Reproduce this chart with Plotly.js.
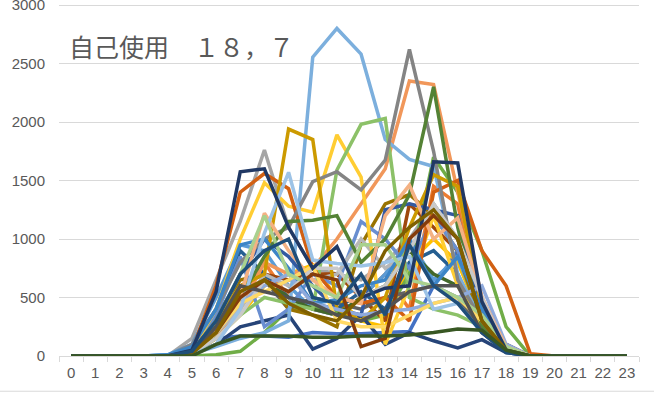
<!DOCTYPE html>
<html>
<head>
<meta charset="utf-8">
<script src="https://cdn.plot.ly/plotly-3.0.1.min.js"></script>
<style>html,body{margin:0;padding:0;background:#fff;}#chart{width:654px;height:393px;}</style>
</head>
<body>
<div id="chart"></div>
<script>
const hours = ["0","1","2","3","4","5","6","7","8","9","10","11","12","13","14","15","16","17","18","19","20","21","22","23"];
const titleText = "自己使用　１８，７";

const s01 = [0,0,0,0,0,30,150,170,170,160,200,190,190,200,210,600,900,400,50,0,0,0,0,0];
const s02 = [0,0,0,0,0,30,200,500,800,500,400,350,500,700,400,1450,1300,300,50,0,0,0,0,0];
const s03 = [0,0,0,0,0,150,650,1150,1760,1100,750,700,650,800,1000,1300,1000,400,60,0,0,0,0,0];
const s04 = [0,0,0,0,0,20,150,350,600,700,780,500,300,250,800,1000,800,300,60,0,0,0,0,0];
const s05 = [0,0,0,0,10,100,500,950,900,600,400,350,500,700,1000,650,850,300,30,0,0,0,0,0];
const s06 = [0,0,0,0,0,0,10,40,200,400,420,380,300,350,700,1700,1400,900,250,0,0,0,0,0];
const s07 = [0,0,0,0,0,20,100,250,300,350,60,150,350,100,200,130,70,140,30,0,0,0,0,0];
const s08 = [0,0,0,0,0,30,250,600,700,650,700,700,500,300,1300,1100,900,300,50,0,0,0,0,0];
const s09 = [0,0,0,0,0,40,300,500,650,400,500,450,400,500,550,600,500,200,100,0,0,0,0,0];
const s10 = [0,0,0,0,0,40,350,650,700,400,350,250,950,1300,1380,1200,900,250,50,0,0,0,0,0];
const s11 = [0,0,0,0,0,50,400,900,700,500,450,400,550,400,800,900,700,250,40,0,0,0,0,0];
const s12 = [0,0,0,0,0,30,200,450,650,500,400,350,500,600,900,700,600,300,80,0,0,0,0,0];
const s13 = [0,0,0,0,0,60,350,850,250,400,700,600,1150,1000,750,1200,900,400,50,0,0,0,0,0];
const s14 = [0,0,0,0,0,20,150,400,800,700,750,1000,1300,1600,2350,2320,1400,500,80,0,0,0,0,0];
const s15 = [0,0,0,0,0,30,200,400,700,600,650,700,1000,750,900,1300,1000,400,60,0,0,0,0,0];
const s16 = [0,0,0,0,0,50,400,1000,1480,1280,1230,1890,1530,100,600,1200,600,250,50,0,0,0,0,0];
const s17 = [0,0,0,0,10,20,80,150,200,300,2555,2800,2580,1850,1680,1620,700,300,50,0,0,0,0,0];
const s18 = [0,0,0,0,0,20,150,350,500,450,400,1590,1980,2030,500,400,350,250,60,0,0,0,0,0];
const s19 = [0,0,0,0,0,40,300,700,1000,850,600,400,350,1250,1300,1250,1200,300,50,0,0,0,0,0];
const s20 = [0,0,0,0,0,50,600,1400,1560,1430,750,500,450,500,300,1400,1500,900,600,20,0,0,0,0];
const s21 = [0,0,0,0,0,100,400,800,1000,1100,1490,1575,1420,1675,2620,1750,650,300,100,0,0,0,0,0];
const s22 = [0,0,0,0,0,30,300,600,700,1940,1850,400,300,500,1100,1550,1450,400,60,0,0,0,0,0];
const s23 = [0,0,0,0,10,80,400,950,1000,750,450,480,600,650,1000,600,850,400,50,0,0,0,0,0];
const s24 = [0,0,0,0,0,30,200,500,850,1150,1160,1200,800,1000,1380,2300,1100,250,50,0,0,0,0,0];
const s25 = [0,0,0,0,0,30,200,450,600,700,450,400,350,380,400,450,500,600,100,0,0,0,0,0];
const s26 = [0,0,0,0,0,30,200,500,1220,900,650,500,450,1200,1460,1000,1180,500,80,0,0,0,0,0];
const s27 = [0,0,0,0,0,20,150,350,650,550,750,750,500,600,900,1300,1000,500,50,0,0,0,0,0];
const s28 = [0,0,0,0,0,20,200,450,550,650,770,300,250,250,350,450,500,300,50,0,0,0,0,0];
const s29 = [0,0,0,0,0,10,100,400,1050,1570,820,790,770,800,850,400,450,200,50,0,0,0,0,0];
const s30 = [0,0,0,0,0,30,300,700,1200,700,600,500,950,950,650,600,500,350,80,0,0,0,0,0];
const s31 = [0,0,0,0,0,50,550,1575,1600,1100,750,935,500,580,600,1660,1650,465,50,0,0,0,0,0];
const s32 = [0,0,0,0,0,30,200,500,650,550,700,650,80,150,1000,1200,1000,300,40,0,0,0,0,0];
const s33 = [0,0,0,0,0,30,250,600,550,500,450,350,300,400,550,600,600,200,40,0,0,0,0,0];
const s34 = [0,0,0,0,0,20,200,550,650,450,350,300,500,900,1100,1250,1000,300,50,0,0,0,0,0];
const s35 = [0,0,0,0,0,40,300,700,900,1000,500,450,700,350,950,600,450,200,30,0,0,0,0,0];
const s36 = [0,0,0,0,0,0,100,170,170,170,160,160,170,170,180,200,230,220,50,0,0,0,0,0];

const seriesList = [s01,s02,s03,s04,s05,s06,s07,s08,s09,s10,s11,s12,s13,s14,s15,s16,s17,s18,
                    s19,s20,s21,s22,s23,s24,s25,s26,s27,s28,s29,s30,s31,s32,s33,s34,s35,s36];
const colors = ["#4472C4","#ED7D31","#A5A5A5","#FFC000","#5B9BD5","#70AD47",
                "#264478","#9E480E","#636363","#997300","#255E91","#43682B",
                "#698ED0","#F1975A","#B7B7B7","#FFCD33","#7CAFDD","#8CC168",
                "#335AA1","#D26012","#848484","#CC9A00","#3C85C7","#548235",
                "#8FAADC","#F4B183","#C9C9C9","#FFD966","#9DC3E6","#A9D18E",
                "#203864","#843C0C","#525252","#7F6000","#1F4E79","#385723"];

const traces = seriesList.map((vals, i) => ({
  type: "scatter",
  mode: "lines",
  x: hours,
  y: vals,
  line: {color: colors[i], width: 3.5},
  hoverinfo: "skip"
}));

const layout = {
  width: 654,
  height: 393,
  margin: {l: 59, r: 15, t: 0, b: 37, pad: 0},
  paper_bgcolor: "#ffffff",
  plot_bgcolor: "#ffffff",
  showlegend: false,
  font: {family: "Liberation Sans, Arial, sans-serif", size: 15, color: "#595959"},
  xaxis: {
    type: "category",
    range: [-0.5, 23.5],
    showgrid: false,
    zeroline: false,
    showline: true,
    linecolor: "#D9D9D9",
    linewidth: 1,
    ticks: "outside",
    tickson: "boundaries",
    ticklen: 5,
    tickcolor: "#D9D9D9",
    tickangle: 0,
    tickfont: {size: 15, color: "#595959"},
    ticklabelstandoff: 3,
    fixedrange: true
  },
  yaxis: {
    range: [0, 3043],
    dtick: 500,
    tick0: 0,
    showgrid: true,
    gridcolor: "#D9D9D9",
    gridwidth: 1,
    zeroline: false,
    showline: false,
    ticks: "",
    tickfont: {size: 15, color: "#595959"},
    ticklabelstandoff: 13,
    ticklabeloverflow: "allow",
    fixedrange: true
  },
  annotations: [{
    text: titleText,
    xref: "paper", yref: "paper",
    x: 0.014, y: 0.872,
    xanchor: "left", yanchor: "middle",
    showarrow: false,
    font: {family: "Noto Sans CJK JP", size: 25, color: "#595959"}
  }],
  shapes: [{
    type: "line", xref: "paper", yref: "paper",
    x0: -0.102, x1: 1.026, y0: -0.099, y1: -0.099,
    line: {color: "#D9D9D9", width: 1}
  }]
};

Plotly.newPlot("chart", traces, layout, {staticPlot: true, displayModeBar: false});
</script>
</body>
</html>
